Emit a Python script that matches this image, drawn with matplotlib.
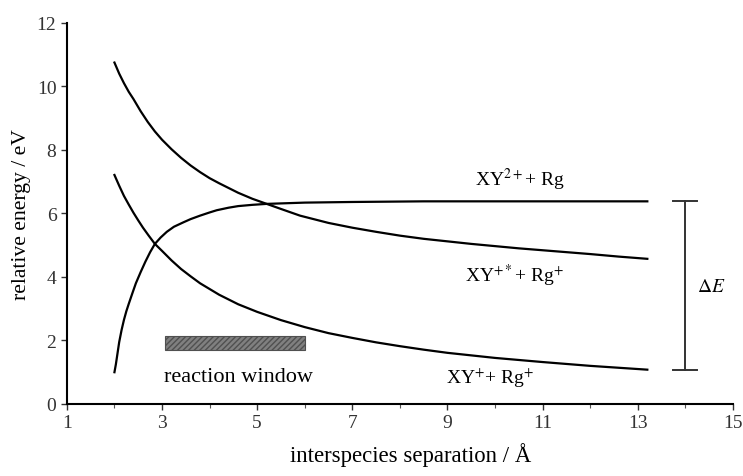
import matplotlib.pyplot as plt
from matplotlib.patches import Rectangle

plt.rcParams['font.family'] = ['Liberation Serif', 'DejaVu Serif']
plt.rcParams['mathtext.fontset'] = 'stix'

# XY+* + Rg+ (upper repulsive curve)
r_upper = [2.0, 2.1, 2.2, 2.3, 2.4, 2.55, 2.7, 2.85, 3.0, 3.2, 3.4, 3.6, 3.8, 4.0, 4.2, 4.4, 4.6, 4.9,
           5.2, 5.5, 5.9, 6.5, 7.0, 7.5, 8.0, 8.5, 9.0, 9.5, 10.0, 10.5, 11.0, 11.5, 12.0, 12.6, 13.2]
e_upper = [10.75, 10.4, 10.1, 9.83, 9.6, 9.22, 8.88, 8.58, 8.32, 8.02, 7.75, 7.51, 7.3, 7.11, 6.95, 6.8, 6.65, 6.46,
           6.3, 6.14, 5.93, 5.7, 5.55, 5.42, 5.3, 5.2, 5.12, 5.04, 4.97, 4.9, 4.84, 4.78, 4.72, 4.64, 4.57]

# XY+ + Rg+ (lower repulsive curve)
r_lower = [2.0, 2.1, 2.2, 2.3, 2.4, 2.5, 2.6, 2.72, 2.85, 3.0, 3.2, 3.4, 3.6, 3.8, 4.0, 4.2, 4.4, 4.6, 4.8,
           5.0, 5.5, 6.0, 6.5, 7.0, 7.5, 8.0, 8.5, 9.0, 9.5, 10.0, 11.0, 12.0, 13.2]
e_lower = [7.21, 6.87, 6.55, 6.28, 6.02, 5.78, 5.55, 5.3, 5.04, 4.82, 4.52, 4.25, 4.02, 3.8, 3.62, 3.44, 3.29, 3.14, 3.02,
           2.9, 2.64, 2.42, 2.23, 2.08, 1.94, 1.82, 1.71, 1.61, 1.53, 1.45, 1.32, 1.2, 1.08]

# XY2+ + Rg (attractive curve)
r_dication = [2.0, 2.03, 2.06, 2.1, 2.15, 2.2, 2.25, 2.3, 2.38, 2.45, 2.55, 2.65, 2.75, 2.85, 2.97, 3.1, 3.25,
              3.45, 3.6, 3.8, 4.0, 4.15, 4.4, 4.6, 4.9, 5.2, 5.6, 6.0, 7.0, 8.5, 10.0, 11.5, 13.2]
e_dication = [1.0, 1.25, 1.55, 1.95, 2.33, 2.65, 2.92, 3.15, 3.5, 3.8, 4.15, 4.48, 4.78, 5.04, 5.24, 5.42, 5.58,
              5.72, 5.82, 5.93, 6.03, 6.1, 6.18, 6.23, 6.27, 6.30, 6.32, 6.34, 6.36, 6.38, 6.38, 6.38, 6.38]

# reaction window and energy gap
window = (3.06, 6.0, 1.7, 2.15)   # r_min, r_max, e_min, e_max
gap_r = 14.0
gap_top = 6.4
gap_bottom = 1.07

fig = plt.figure(figsize=(7.43, 4.77), dpi=100)
ax = fig.add_axes([0.090, 0.151, 0.8965, 0.799])

ax.plot(r_upper, e_upper, color='black', lw=1.6)
ax.plot(r_lower, e_lower, color='black', lw=1.6)
ax.plot(r_dication, e_dication, color='black', lw=1.6)

ax.add_patch(Rectangle((window[0], window[2]), window[1] - window[0], window[3] - window[2],
                       facecolor='#808080', edgecolor='#505050', hatch='//////', lw=0.8))
ax.text(4.6, 0.85, 'reaction window', ha='center', va='center', fontsize=16)

# delta E bracket
ax.plot([gap_r, gap_r], [gap_bottom, gap_top], color='#333333', lw=1.4)
ax.plot([gap_r - 0.25, gap_r + 0.25], [gap_top, gap_top], color='#333333', lw=1.4)
ax.plot([gap_r - 0.25, gap_r + 0.25], [gap_bottom, gap_bottom], color='#333333', lw=1.4)
ax.text(gap_r + 0.25, 3.7, r'$\Delta E$', ha='left', va='center', fontsize=14)

ax.text(10.52, 7.1, r'XY$^{2+}$+ Rg', ha='center', va='center', fontsize=14)
ax.text(10.4, 4.05, r'XY$^{+*}$+ Rg$^{+}$', ha='center', va='center', fontsize=14)
ax.text(9.9, 0.85, r'XY$^{+}$+ Rg$^{+}$', ha='center', va='center', fontsize=14)

ax.set_xlim(1, 15)
ax.set_ylim(0, 12)
ax.set_xticks(range(1, 16, 2))
ax.set_xticks(range(1, 16), minor=True)
ax.set_yticks(range(0, 13, 2))
ax.tick_params(axis='both', labelsize=14, direction='out', length=4, width=1, colors='#333333')
ax.tick_params(axis='x', which='minor', length=3, width=0.8, colors='#555555')
for side in ['top', 'right']:
    ax.spines[side].set_visible(False)
for side in ['left', 'bottom']:
    ax.spines[side].set_linewidth(1.5)

ax.set_xlabel('interspecies separation / Å', fontsize=16.4, labelpad=8, x=0.516)
ax.set_ylabel('relative energy / eV', fontsize=15.6, labelpad=4)

fig.savefig('out.png', dpi=100)
